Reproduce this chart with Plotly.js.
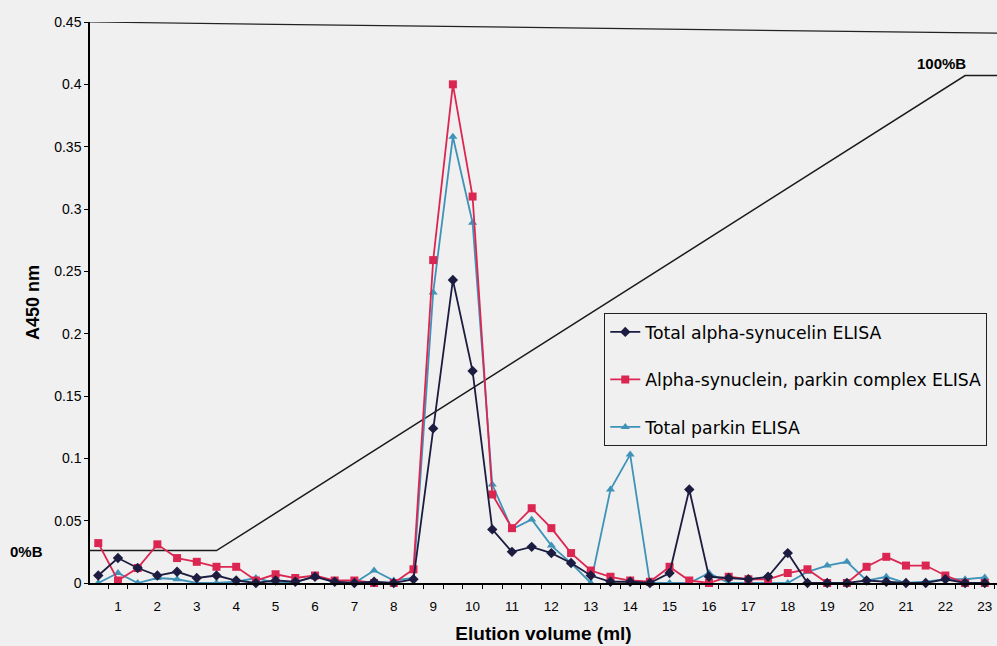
<!DOCTYPE html>
<html>
<head>
<meta charset="utf-8">
<script src="https://cdn.plot.ly/plotly-3.0.1.min.js"></script>
<style>html,body{margin:0;padding:0;background:#f0f0f0;}#chart{width:997px;height:646px;}</style>
</head>
<body>
<div id="chart"></div>
<script>
const elution = [0.5,1,1.5,2,2.5,3,3.5,4,4.5,5,5.5,6,6.5,7,7.5,8,8.5,9,9.5,10,10.5,11,11.5,12,12.5,13,13.5,14,14.5,15,15.5,16,16.5,17,17.5,18,18.5,19,19.5,20,20.5,21,21.5,22,22.5,23];
const totalAlphaSyn = [0.006,0.020,0.012,0.006,0.009,0.004,0.006,0.002,0.000,0.002,0.001,0.005,0.001,0.000,0.001,0.000,0.003,0.124,0.243,0.170,0.043,0.025,0.029,0.024,0.016,0.006,0.001,0.001,0.000,0.008,0.075,0.005,0.004,0.003,0.005,0.024,0.000,0.000,0.000,0.002,0.001,0.000,0.000,0.003,0.000,0.000];
const complexElisa = [0.032,0.002,0.012,0.031,0.020,0.017,0.013,0.013,0.002,0.007,0.004,0.006,0.002,0.002,0.000,0.000,0.011,0.259,0.400,0.310,0.071,0.044,0.060,0.044,0.024,0.010,0.005,0.002,0.001,0.013,0.002,0.000,0.005,0.003,0.003,0.008,0.011,0.000,0.000,0.013,0.021,0.014,0.014,0.006,0.000,0.000];
const totalParkin = [0.000,0.008,0.000,0.004,0.003,0.000,0.000,0.001,0.004,0.000,0.000,0.006,0.000,0.000,0.010,0.002,0.004,0.233,0.358,0.289,0.079,0.043,0.051,0.030,0.016,0.000,0.075,0.103,0.000,0.000,0.000,0.008,0.000,0.000,0.000,0.000,0.009,0.014,0.017,0.002,0.005,0.000,0.001,0.003,0.003,0.0045];
const gradientX = [0.29, 3.5, 22.5, 23.31];
const gradientY = [0.026, 0.026, 0.407, 0.407];
const xTicks = [1,2,3,4,5,6,7,8,9,10,11,12,13,14,15,16,17,18,19,20,21,22,23];
const yTicks = [0,0.05,0.1,0.15,0.2,0.25,0.3,0.35,0.4,0.45];
const yTickText = ["0","0.05","0.1","0.15","0.2","0.25","0.3","0.35","0.4","0.45"];
const names = ["Total alpha-synucelin ELISA","Alpha-synuclein, parkin complex ELISA","Total parkin ELISA"];

const FONT = "Liberation Sans, Arial, sans-serif";
const LEGFONT = "DejaVu Sans, sans-serif";
const traces = [
  {x: gradientX, y: gradientY, mode: 'lines', line: {color: '#1a1a1a', width: 1.5}, showlegend: false, hoverinfo: 'skip'},
  {x: elution, y: totalParkin, name: names[2], mode: 'lines+markers', legendgroup: 'c', legendrank: 3,
   line: {color: '#3f93b8', width: 1.8}, marker: {symbol: 'triangle-up', size: 8, color: '#3f93b8'}, cliponaxis: false},
  {x: elution, y: complexElisa, name: names[1], mode: 'lines+markers', legendgroup: 'b', legendrank: 2,
   line: {color: '#dc2652', width: 1.8}, marker: {symbol: 'square', size: 8, color: '#dc2652'}, cliponaxis: false},
  {x: elution, y: totalAlphaSyn, name: names[0], mode: 'lines+markers', legendgroup: 'a', legendrank: 1,
   line: {color: '#1c1c40', width: 1.8}, marker: {symbol: 'diamond', size: 8, color: '#1c1c40'}, cliponaxis: false}
];
const layout = {
  width: 997, height: 646,
  paper_bgcolor: '#f0f0f0', plot_bgcolor: '#f0f0f0',
  margin: {l: 90, r: 0, t: 22, b: 63},
  font: {family: FONT, color: '#000', size: 14},
  showlegend: true,
  legend: {x: 0.567, y: 0.481, xanchor: 'left', yanchor: 'top', bgcolor: '#f0f0f0', bordercolor: '#222', borderwidth: 1,
           font: {size: 17.3, family: LEGFONT, color: '#000'}, tracegroupgap: 22, traceorder: 'grouped', itemwidth: 30},
  xaxis: {range: [0.29, 23.31], tickvals: xTicks, ticktext: xTicks.map(String), ticks: '', showgrid: false, zeroline: false,
          showline: true, linecolor: '#000', linewidth: 1.5, tickfont: {size: 13.5}, ticklabelstandoff: 10,
          minor: {tick0: 0.25, dtick: 0.5, ticks: 'outside', ticklen: 4, tickcolor: '#000', showgrid: false},
          title: {text: '<b>Elution volume (ml)</b>', font: {size: 19}, standoff: 14}},
  yaxis: {range: [0, 0.45], tickvals: yTicks, ticktext: yTickText, ticks: 'outside', ticklen: 4, tickcolor: '#000',
          showgrid: false, zeroline: false, showline: true, linecolor: '#000', linewidth: 1.5, tickfont: {size: 14},
          title: {text: '<b>A450 nm</b>', font: {size: 18}, standoff: 10}},
  shapes: [
    {type: 'line', xref: 'paper', yref: 'y', x0: 0, x1: 1, y0: 0.45, y1: 0.441, line: {color: '#222', width: 1.2}}
  ],
  annotations: [
    {text: '<b>0%B</b>', xref: 'paper', yref: 'y', x: -0.0496, y: 0.025, xanchor: 'right', yanchor: 'middle', showarrow: false, font: {size: 15}},
    {text: '<b>100%B</b>', xref: 'x', yref: 'y', x: 22.57, y: 0.417, xanchor: 'right', yanchor: 'middle', showarrow: false, font: {size: 15}}
  ]
};
Plotly.newPlot('chart', traces, layout, {displayModeBar: false});
</script>
</body>
</html>
